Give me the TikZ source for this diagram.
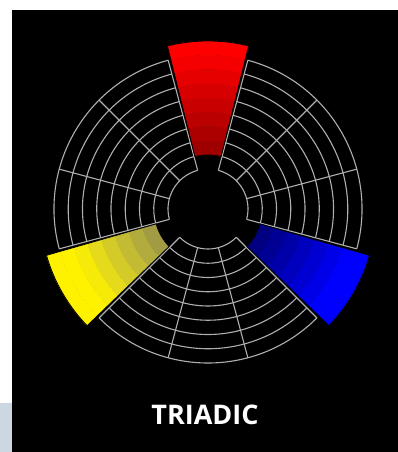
\documentclass[tikz,border=0pt]{standalone}
\usepackage{fontspec}
\setsansfont{Open Sans}
\definecolor{gridgray}{RGB}{175,175,175}
\definecolor{edgeblue}{RGB}{205,215,225}

\begin{document}
\begin{tikzpicture}[x=1pt, y=1pt]
    \tikzstyle{ring} = [draw=gridgray, line width=1.1pt]
    \tikzstyle{wedgeline} = [draw=black, line width=0.8pt]
    \tikzstyle{title} = [text=white, font=\sffamily\bfseries\fontsize{27}{32}\selectfont]

    % page and dark panel
    \fill[white] (-208,209) rectangle (190,-243);
    \fill[edgeblue] (-208,-194) rectangle (-196,-243);
    \fill[black] (-196,199) rectangle (190,-243);

    % empty grid segments between the three colours
    \foreach \c in {30,150,270} {
        \foreach \i in {0,...,8}
            \draw[ring] (\c-45:40+14.25*\i) arc[start angle=\c-45, end angle=\c+45, radius=40+14.25*\i];
        \foreach \a in {-45,-15,15,45}
            \draw[ring] (\c+\a:40) -- (\c+\a:154);
    }

    % the three pulled-out colour wedges
    \foreach \c/\col/\lo/\hi in {90/red/62/93, 210/yellow/58/100, 330/blue/50/95} {
        \foreach \k in {0,...,7} {
            \pgfmathsetmacro\pct{min(100,\lo+(\hi-\lo)*\k/5.5)}
            \pgfmathsetmacro\rin{54+14.25*\k}
            \pgfmathsetmacro\rout{\rin+14.5}
            \fill[\col!\pct!black] (\c-14:\rin) arc[start angle=\c-14, end angle=\c+14, radius=\rin]
                -- (\c+14:\rout) arc[start angle=\c+14, end angle=\c-14, radius=\rout] -- cycle;
        }
        \draw[wedgeline] (\c-14:54) arc[start angle=\c-14, end angle=\c+14, radius=54]
            -- (\c+14:168) arc[start angle=\c+14, end angle=\c-14, radius=168] -- cycle;
    }

    \node[title] (triadic) at (-3,-206) {TRIADIC};
\end{tikzpicture}
\end{document}
